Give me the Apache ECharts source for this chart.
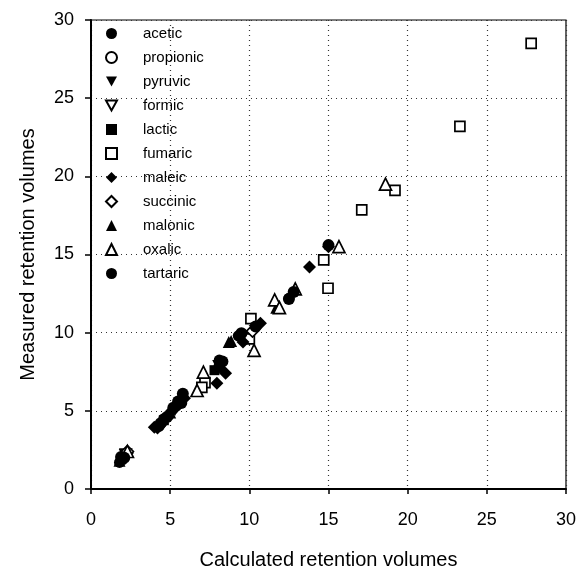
<!DOCTYPE html>
<html>
<head>
<meta charset="utf-8">
<script src="https://cdn.jsdelivr.net/npm/echarts@6/dist/echarts.min.js"></script>
<style>
  html, body { margin: 0; padding: 0; background: #fff; }
  #main { width: 579px; height: 576px; }
</style>
</head>
<body>
<div id="main"></div>
<script>
// [calculated, measured] pairs
var acetic = [[1.8, 1.7], [2.0, 1.9], [4.3, 4.0], [4.9, 4.7], [5.6, 5.5], [9.3, 9.8], [8.1, 8.25],
              [12.5, 12.2], [4.6, 4.5], [5.4, 5.3]];
var propionic = [[5.2, 5.1], [9.6, 9.9]];
var pyruvic = [[2.1, 2.2], [5.3, 5.0], [8.0, 7.9]];
var formic = [[10.0, 9.65], [2.2, 2.2]];
var lactic = [[1.9, 1.9], [4.6, 4.4], [7.8, 7.6]];
var fumaric = [[27.8, 28.5], [23.3, 23.2], [19.2, 19.1], [17.1, 17.85], [14.7, 14.65], [14.97, 12.84],
               [10.1, 10.9], [10.0, 9.6], [7.2, 6.8], [7.0, 6.5]];
var maleic = [[15.0, 15.5], [13.8, 14.2], [10.7, 10.6], [8.5, 7.4], [7.95, 6.76], [9.6, 9.4],
              [4.2, 3.9], [4.5, 4.2], [2.3, 2.3], [5.9, 5.8], [5.1, 5.0], [4.0, 3.95]];
var succinic = [[10.2, 10.1], [2.3, 2.4]];
var malonic = [[11.7, 11.6], [8.85, 9.47], [8.7, 9.4], [5.0, 4.9], [1.8, 1.8]];
var oxalic = [[18.6, 19.5], [15.66, 15.5], [12.9, 12.8], [11.6, 12.1], [11.9, 11.6], [10.3, 8.87],
              [7.1, 7.47], [6.7, 6.3], [2.3, 2.4]];
var tartaric = [[15.0, 15.6], [12.5, 12.15], [12.8, 12.6], [9.5, 9.96], [10.4, 10.4], [8.3, 8.15],
                [8.1, 7.8], [5.8, 6.1], [5.5, 5.6], [4.8, 4.6], [5.2, 5.2], [5.7, 5.5], [4.4, 4.2],
                [1.9, 2.05], [2.1, 2.0]];

var xTicks = [0, 30, 5];
var yTicks = [0, 30, 5];

var font = 'Liberation Sans';
var downTri = 'path://M0,0L10,0L5,9Z';

function mk(name, data, symbol, filled, size) {
    return {
        name: name,
        type: 'scatter',
        data: data,
        symbol: symbol,
        symbolSize: size,
        itemStyle: filled ? { color: '#000', opacity: 1 } :
            { color: '#fff', borderColor: '#000', borderWidth: 1.7, opacity: 1 }
    };
}

var myChart = echarts.init(document.getElementById('main'));

myChart.setOption({
    animation: false,
    grid: {
        left: 91, right: 11, top: 20, bottom: 87,
        show: true, borderColor: '#000', borderWidth: 1.2
    },
    legend: {
        orient: 'vertical',
        left: 100, top: 21,
        itemWidth: 11, itemHeight: 11, itemGap: 9,
        textStyle: { fontFamily: font, fontSize: 15, color: '#000', lineHeight: 15, padding: [0, 0, 0, 21] },
        data: ['acetic', 'propionic', 'pyruvic', 'formic', 'lactic', 'fumaric',
               'maleic', 'succinic', 'malonic', 'oxalic', 'tartaric']
    },
    xAxis: {
        type: 'value',
        min: xTicks[0], max: xTicks[1], interval: xTicks[2],
        name: 'Calculated retention volumes',
        nameLocation: 'middle', nameGap: 61,
        nameTextStyle: { fontFamily: font, fontSize: 20, color: '#000' },
        axisLine: { lineStyle: { color: '#000', width: 2 } },
        axisTick: { show: true, length: 5, lineStyle: { color: '#000', width: 1.5 } },
        axisLabel: { fontFamily: font, fontSize: 18, color: '#000', margin: 22 },
        splitLine: { show: true, lineStyle: { type: [1, 4], color: '#333', width: 1.2 } }
    },
    yAxis: {
        type: 'value',
        min: yTicks[0], max: yTicks[1], interval: yTicks[2],
        name: 'Measured retention volumes',
        nameLocation: 'middle', nameGap: 53,
        nameTextStyle: { fontFamily: font, fontSize: 20, color: '#000' },
        axisLine: { lineStyle: { color: '#000', width: 2 } },
        axisTick: { show: true, length: 6, lineStyle: { color: '#000', width: 1.5 } },
        axisLabel: { fontFamily: font, fontSize: 18, color: '#000', margin: 17 },
        splitLine: { show: true, lineStyle: { type: [1, 4], color: '#333', width: 1.2 } }
    },
    series: [
        mk('acetic', acetic, 'circle', true, 11),
        mk('propionic', propionic, 'circle', false, 9),
        mk('pyruvic', pyruvic, downTri, true, 11),
        mk('formic', formic, downTri, false, 11),
        mk('lactic', lactic, 'rect', true, 10),
        mk('fumaric', fumaric, 'rect', false, 10),
        mk('maleic', maleic, 'diamond', true, 13),
        mk('succinic', succinic, 'diamond', false, 12),
        mk('malonic', malonic, 'triangle', true, 12),
        mk('oxalic', oxalic, 'triangle', false, 12),
        mk('tartaric', tartaric, 'circle', true, 12)
    ]
});
</script>
</body>
</html>
